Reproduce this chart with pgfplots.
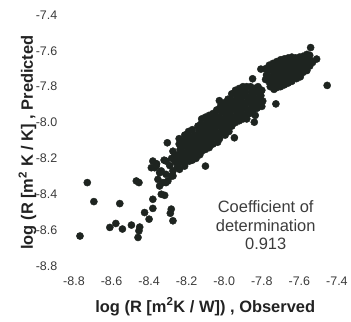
\documentclass[border=0pt]{standalone}
\usepackage{pgfplots}
\pgfplotsset{compat=1.18}
\usepackage{fontspec}
\setmainfont{Liberation Sans}
\definecolor{dot}{HTML}{1E2420}
\definecolor{tickgray}{HTML}{3A3A3A}
\definecolor{labgray}{HTML}{222222}
\definecolor{anngray}{HTML}{3C3C3C}
\begin{document}
\begin{tikzpicture}
\begin{axis}[
  name=ax,
  scale only axis, width=277pt, height=259pt,
  xmin=-8.87, xmax=-7.4, ymin=-8.84, ymax=-7.4,
  axis line style={draw=none}, tick style={draw=none},
  xtick={-8.8,-8.6,-8.4,-8.2,-8.0,-7.8,-7.6,-7.4},
  xticklabels={-8.8,-8.6,-8.4,-8.2,-8.0,-7.8,-7.6,-7.4},
  ytick={-8.8,-8.6,-8.4,-8.2,-8.0,-7.8,-7.6,-7.4},
  yticklabels={-8.8,-8.6,-8.4,-8.2,-8.0,-7.8,-7.6,-7.4},
  ticklabel style={font=\fontsize{12.5}{14}\selectfont, text=tickgray},
  clip=false,
  xlabel={log (R [m\textsuperscript{2}K / W]) , Observed},
  ylabel={log (R [m\textsuperscript{2} K / K] , Predicted},
  xlabel style={at={(axis description cs:0.523,-0.151)}, anchor=base, font=\bfseries\fontsize{16.5}{19}\selectfont, text=labgray},
  ylabel style={at={(axis description cs:-0.101,0.506)}, anchor=base, font=\bfseries\fontsize{16.5}{19}\selectfont, text=labgray},
]
\addplot[only marks, mark=*, mark size=3.6pt, mark options={fill=dot, draw=dot}] table {
x y
-7.78 -7.70
-7.775 -7.735
-7.78 -7.76
-7.76 -7.68
-7.765 -7.71
-7.755 -7.745
-7.76 -7.775
-7.755 -7.80
-7.74 -7.67
-7.745 -7.70
-7.735 -7.73
-7.74 -7.76
-7.745 -7.79
-7.735 -7.815
-7.72 -7.66
-7.715 -7.69
-7.725 -7.72
-7.72 -7.75
-7.715 -7.78
-7.72 -7.805
-7.70 -7.65
-7.695 -7.68
-7.705 -7.71
-7.70 -7.74
-7.695 -7.77
-7.70 -7.80
-7.68 -7.645
-7.675 -7.675
-7.685 -7.70
-7.68 -7.73
-7.675 -7.76
-7.68 -7.79
-7.66 -7.64
-7.655 -7.67
-7.665 -7.70
-7.66 -7.73
-7.655 -7.76
-7.66 -7.78
-7.64 -7.635
-7.635 -7.665
-7.645 -7.69
-7.64 -7.72
-7.635 -7.75
-7.64 -7.77
-7.62 -7.64
-7.615 -7.67
-7.625 -7.70
-7.62 -7.73
-7.615 -7.755
-7.60 -7.635
-7.595 -7.665
-7.605 -7.69
-7.60 -7.72
-7.595 -7.745
-7.58 -7.63
-7.575 -7.66
-7.585 -7.69
-7.58 -7.72
-7.56 -7.62
-7.555 -7.65
-7.565 -7.68
-7.56 -7.71
-7.545 -7.625
-7.54 -7.655
-7.545 -7.685
-7.53 -7.665
-7.54 -7.582
-7.508 -7.646
-7.452 -7.793
-7.805 -7.702
-7.849 -7.756
-7.725 -7.896
-8.24 -8.12
-8.235 -8.15
-8.245 -8.18
-8.24 -8.21
-8.24 -8.09
-8.21 -8.07
-8.19 -8.05
-8.17 -8.04
-8.22 -8.11
-8.225 -8.14
-8.215 -8.17
-8.22 -8.20
-8.20 -8.10
-8.205 -8.13
-8.195 -8.16
-8.20 -8.19
-8.205 -8.22
-8.18 -8.08
-8.175 -8.11
-8.185 -8.14
-8.18 -8.17
-8.175 -8.20
-8.16 -8.07
-8.165 -8.10
-8.155 -8.13
-8.16 -8.16
-8.165 -8.19
-8.14 -8.02
-8.135 -8.05
-8.145 -8.08
-8.14 -8.11
-8.135 -8.14
-8.14 -8.18
-8.12 -7.98
-8.125 -8.01
-8.115 -8.04
-8.12 -8.07
-8.125 -8.10
-8.115 -8.13
-8.12 -8.16
-8.10 -7.97
-8.095 -8.00
-8.105 -8.03
-8.10 -8.06
-8.095 -8.09
-8.105 -8.12
-8.10 -8.15
-8.08 -7.96
-8.085 -7.99
-8.075 -8.02
-8.08 -8.05
-8.085 -8.08
-8.075 -8.11
-8.08 -8.14
-8.06 -7.95
-8.055 -7.98
-8.065 -8.01
-8.06 -8.04
-8.055 -8.07
-8.065 -8.09
-8.06 -8.12
-8.04 -7.93
-8.045 -7.96
-8.035 -7.99
-8.04 -8.02
-8.045 -8.05
-8.04 -8.08
-8.035 -8.11
-8.02 -7.91
-8.015 -7.94
-8.025 -7.97
-8.02 -8.00
-8.015 -8.03
-8.02 -8.06
-8.025 -8.09
-8.00 -7.89
-8.005 -7.92
-7.995 -7.95
-8.00 -7.98
-8.005 -8.01
-8.00 -8.04
-7.995 -8.07
-7.98 -7.87
-7.975 -7.90
-7.985 -7.93
-7.98 -7.96
-7.975 -7.99
-7.985 -8.02
-7.975 -8.05
-7.96 -7.84
-7.965 -7.87
-7.955 -7.90
-7.96 -7.93
-7.965 -7.96
-7.955 -7.99
-7.96 -8.02
-7.94 -7.82
-7.935 -7.85
-7.945 -7.88
-7.94 -7.91
-7.935 -7.94
-7.945 -7.97
-7.94 -8.00
-7.92 -7.81
-7.925 -7.84
-7.915 -7.87
-7.92 -7.90
-7.925 -7.93
-7.915 -7.96
-7.92 -7.99
-7.90 -7.80
-7.895 -7.83
-7.905 -7.86
-7.90 -7.89
-7.895 -7.92
-7.905 -7.95
-7.90 -7.98
-7.88 -7.80
-7.885 -7.83
-7.875 -7.86
-7.88 -7.89
-7.885 -7.92
-7.875 -7.95
-7.88 -7.98
-7.86 -7.80
-7.855 -7.83
-7.865 -7.86
-7.86 -7.89
-7.855 -7.92
-7.865 -7.95
-7.84 -7.81
-7.845 -7.84
-7.835 -7.87
-7.84 -7.90
-7.845 -7.93
-7.835 -7.96
-7.82 -7.80
-7.825 -7.83
-7.815 -7.86
-7.82 -7.89
-7.825 -7.92
-7.80 -7.82
-7.805 -7.85
-7.795 -7.88
-7.80 -7.91
-7.84 -7.998
-7.946 -8.085
-8.026 -7.878
-8.10 -8.243
-8.38 -8.215
-8.37 -8.252
-8.344 -8.28
-8.353 -8.317
-8.326 -8.335
-8.30 -8.326
-8.273 -8.298
-8.31 -8.289
-8.344 -8.354
-8.36 -8.23
-8.335 -8.27
-8.31 -8.335
-8.282 -8.298
-8.273 -8.16
-8.264 -8.187
-8.238 -8.224
-8.211 -8.243
-8.185 -8.215
-8.22 -8.113
-8.202 -8.132
-8.167 -8.168
-8.141 -8.16
-8.303 -8.113
-8.29 -8.24
-8.26 -8.22
-8.25 -8.25
-8.32 -8.21
-8.28 -8.20
-8.17 -8.21
-8.15 -8.20
-8.13 -8.18
-8.362 -8.243
-8.388 -8.252
-8.255 -8.206
-8.273 -8.27
-8.238 -8.261
-8.22 -8.104
-8.31 -8.215
-8.768 -8.633
-8.729 -8.335
-8.694 -8.441
-8.556 -8.452
-8.609 -8.585
-8.577 -8.563
-8.542 -8.594
-8.494 -8.572
-8.468 -8.326
-8.454 -8.335
-8.454 -8.604
-8.459 -8.641
-8.45 -8.583
-8.424 -8.502
-8.40 -8.539
-8.38 -8.428
-8.38 -8.479
-8.335 -8.40
-8.317 -8.406
-8.282 -8.483
-8.287 -8.506
-8.273 -8.548
};
\node[anchor=base, text=anngray, font=\fontsize{16.5}{19}\selectfont] at (axis description cs:0.742,0.2355) {Coefficient of};
\node[anchor=base, text=anngray, font=\fontsize{16.5}{19}\selectfont] at (axis description cs:0.742,0.163) {determination};
\node[anchor=base, text=anngray, font=\fontsize{16.5}{19}\selectfont] at (axis description cs:0.742,0.0927) {0.913};
\end{axis}
\path ([shift={(-61pt,-49pt)}]ax.south west) rectangle ([shift={(13pt,15pt)}]ax.north east);
\end{tikzpicture}
\end{document}
